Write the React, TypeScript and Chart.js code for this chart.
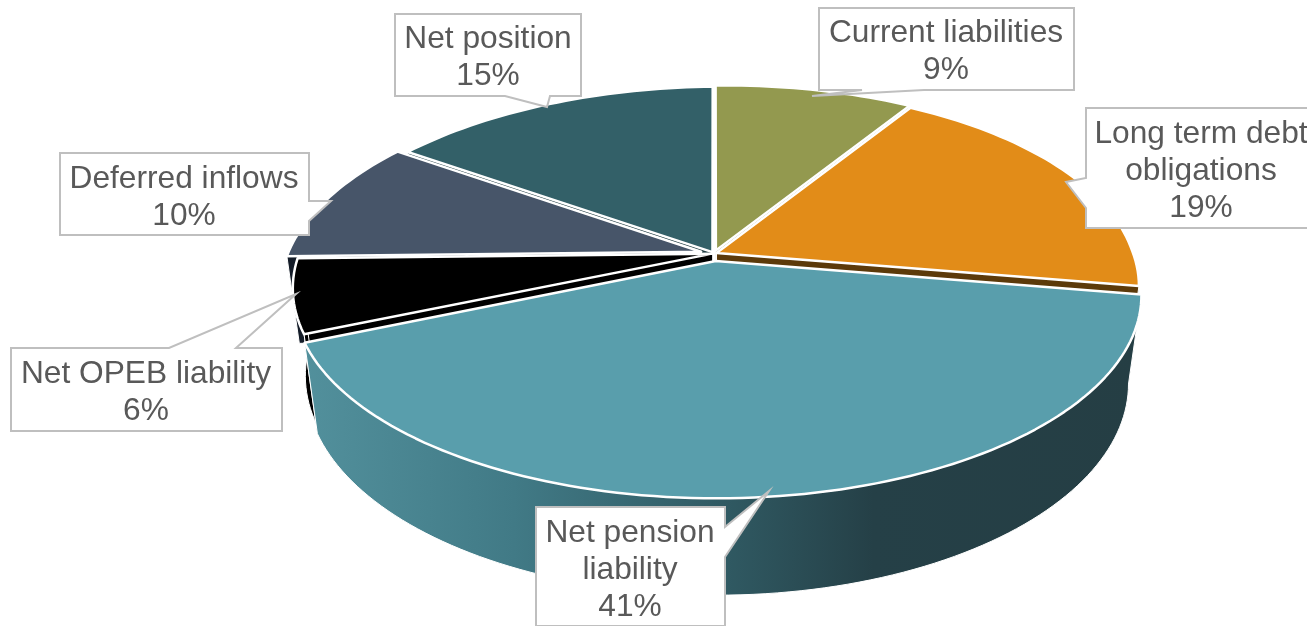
import { useEffect, useRef } from "react";
import { Chart, registerables } from "chart.js";

Chart.register(...registerables);

// Balance sheet shares, clockwise from twelve o'clock.
const categories = [
  "Current liabilities",
  "Long term debt obligations",
  "Net pension liability",
  "Net OPEB liability",
  "Deferred inflows",
  "Net position",
];
const shares = [9, 19, 41, 6, 10, 15];

const faceColours = ["#93994f", "#e28c18", "#599eac", "#000000", "#475569", "#336068"];
const wallColours = ["#5e6132", "#5c3a0a", "#305a63", "#000000", "#141c28", "#1f3b40"];
const sliceOffsets = [5, 2, 12, 1, 10, 2.5];

// Label wrapping and callout geometry.
const labelLines = [
  ["Current liabilities"],
  ["Long term debt", "obligations"],
  ["Net pension", "liability"],
  ["Net OPEB liability"],
  ["Deferred inflows"],
  ["Net position"],
];
type Pt = [number, number];
const callouts: { centreX: number; centreY: number; outline: Pt[] }[] = [
  { centreX: 946, centreY: 49, outline: [[819, 8], [1074, 8], [1074, 90], [924, 90], [812, 96], [862, 90], [819, 90]] },
  { centreX: 1201, centreY: 168, outline: [[1086, 108], [1330, 108], [1330, 228], [1086, 228], [1086, 208], [1066, 182], [1086, 178]] },
  { centreX: 630, centreY: 567, outline: [[536, 507], [725, 507], [725, 527], [769, 491], [725, 557], [725, 626], [536, 626]] },
  { centreX: 146, centreY: 390, outline: [[11, 348], [169, 348], [296, 294], [236, 348], [282, 348], [282, 431], [11, 431]] },
  { centreX: 184, centreY: 195, outline: [[60, 153], [309, 153], [309, 201], [331, 201], [309, 221], [309, 235], [60, 235]] },
  { centreX: 488, centreY: 55, outline: [[395, 14], [581, 14], [581, 96], [550, 96], [547, 107], [505, 96], [395, 96]] },
];

// Perspective camera for the tilted disc; s and t lean it slightly off axis.
const CAM = { cx: 714, cy: 253.5, a: 415, b: 194, s: 8, t: -4.5, k: 0.17, m: 0.03, h: 90 };

function project(u: number, v: number, z: number): Pt {
  const w = 1 - CAM.k * v + CAM.m * z;
  return [CAM.cx + (CAM.a * u + CAM.s * Math.max(v, 0)) / w, CAM.cy + (CAM.b * v + CAM.t * u + CAM.h * z) / w];
}

function tracePath(ctx: CanvasRenderingContext2D, pts: Pt[]) {
  ctx.beginPath();
  pts.forEach(([x, y], i) => (i ? ctx.lineTo(x, y) : ctx.moveTo(x, y)));
  ctx.closePath();
}

const tiltedPie = {
  id: "tiltedPie",
  // The flat arcs are replaced by their projected solids below.
  beforeDatasetDraw() {
    return false;
  },
  afterDatasetsDraw(chart: Chart) {
    const ctx = chart.ctx;
    const arcs = chart.getDatasetMeta(0).data as any[];
    const solids = arcs.map((arc, i) => {
      const { startAngle, endAngle, outerRadius } = arc.getProps(["startAngle", "endAngle", "outerRadius"], true);
      const mid = (startAngle + endAngle) / 2;
      const off = arc.options.offset / outerRadius;
      const ou = off * Math.cos(mid);
      const ov = off * Math.sin(mid);
      const steps = Math.max(8, Math.round((endAngle - startAngle) * 40));
      const rim: [number, number][] = [];
      for (let s = 0; s <= steps; s++) {
        const t = startAngle + ((endAngle - startAngle) * s) / steps;
        rim.push([ou + Math.cos(t), ov + Math.sin(t)]);
      }
      return { i, ou, ov, rim, depth: ov + Math.sin(mid) };
    });

    ctx.save();
    ctx.lineJoin = "round";
    // Painter's order: the far slices go down first.
    solids
      .sort((p, q) => p.depth - q.depth)
      .forEach(({ i, ou, ov, rim }) => {
        let wall: string | CanvasGradient = wallColours[i];
        if (i === 2) {
          const g = ctx.createLinearGradient(305, 0, 1140, 0);
          g.addColorStop(0, "#52909c");
          g.addColorStop(0.25, "#417a86");
          g.addColorStop(0.5, "#305a63");
          g.addColorStop(0.68, "#254047");
          g.addColorStop(1, "#253e44");
          wall = g;
        }
        ctx.fillStyle = wall;
        ctx.strokeStyle = "#ffffff";
        ctx.lineWidth = 1;

        const drawRim = () => {
          tracePath(ctx, [
            ...rim.map(([u, v]) => project(u, v, 0)),
            ...[...rim].reverse().map(([u, v]) => project(u, v, 1)),
          ]);
          ctx.fill();
          ctx.stroke();
        };
        const drawCuts = () => {
          for (const edge of [rim[0], rim[rim.length - 1]]) {
            tracePath(ctx, [
              project(ou, ov, 0),
              project(edge[0], edge[1], 0),
              project(edge[0], edge[1], 1),
              project(ou, ov, 1),
            ]);
            ctx.fill();
            ctx.stroke();
          }
        };
        // Only the exploded front slice shows its rim in front of its cut faces.
        if (i === 2) {
          drawCuts();
          drawRim();
        } else {
          drawRim();
          drawCuts();
        }

        tracePath(ctx, [project(ou, ov, 0), ...rim.map(([u, v]) => project(u, v, 0))]);
        ctx.fillStyle = faceColours[i];
        ctx.fill();
        ctx.lineWidth = 2.5;
        ctx.stroke();
      });
    ctx.restore();
  },
  afterDraw(chart: Chart) {
    const ctx = chart.ctx;
    ctx.save();
    ctx.font = '31.7px "Liberation Sans"';
    ctx.textAlign = "center";
    ctx.textBaseline = "middle";
    categories.forEach((_, i) => {
      const c = callouts[i];
      tracePath(ctx, c.outline);
      ctx.fillStyle = "#ffffff";
      ctx.fill();
      ctx.strokeStyle = "#bfbfbf";
      ctx.lineWidth = 2;
      ctx.lineJoin = "miter";
      ctx.stroke();
      const lines = [...labelLines[i], `${shares[i]}%`];
      ctx.fillStyle = "#595959";
      lines.forEach((line, n) => {
        ctx.fillText(line, c.centreX, c.centreY + 3 + (n - (lines.length - 1) / 2) * 36.8);
      });
    });
    ctx.restore();
  },
};

export default function App() {
  const ref = useRef<HTMLCanvasElement>(null);
  useEffect(() => {
    const chart = new Chart(ref.current!, {
      type: "pie",
      data: {
        labels: categories,
        datasets: [{ data: shares, backgroundColor: faceColours, offset: sliceOffsets, borderWidth: 0 }],
      },
      options: {
        animation: false,
        responsive: false,
        devicePixelRatio: 1,
        events: [],
        plugins: { legend: { display: false }, tooltip: { enabled: false } },
      },
      plugins: [tiltedPie],
    } as any);
    return () => chart.destroy();
  }, []);
  return (
    <div style={{ position: "absolute", left: 0, top: 0, width: 1307, height: 626, overflow: "hidden", background: "#fff" }}>
      <canvas ref={ref} width={1307} height={626} style={{ display: "block" }} />
    </div>
  );
}
